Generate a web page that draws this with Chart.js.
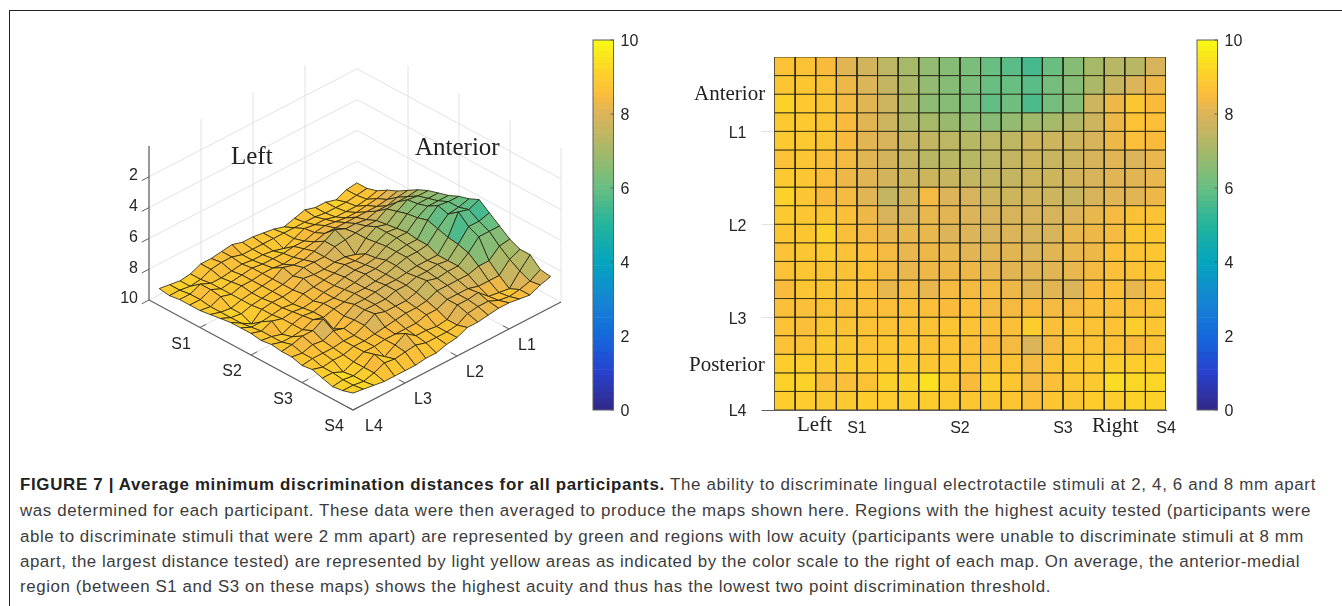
<!DOCTYPE html>
<html>
<head>
<meta charset="utf-8">
<title>Figure 7</title>
<script src="https://cdn.jsdelivr.net/npm/chart.js@4/dist/chart.umd.min.js"></script>
<style>
body { margin: 0; background: #fff; width: 1342px; height: 606px; overflow: hidden; position: relative; }
canvas { position: absolute; }
.frame { position: absolute; left: 9px; top: 10px; right: 0; bottom: 0; border-left: 1px solid #222; border-top: 1px solid #222; }
.serif { position: absolute; font-family: "Liberation Serif", serif; color: #222; white-space: nowrap; line-height: 1; }
.cap { position: absolute; left: 20px; font: 16.9px "Liberation Sans", sans-serif; color: #3c3c3c; white-space: nowrap; line-height: 18px; }
.cap b { color: #222; }
</style>
</head>
<body>
<div class="frame"></div>

<div style="position:absolute;left:100px;top:20px;width:490px;height:420px"><canvas id="surfaceChart"></canvas></div>
<div style="position:absolute;left:585px;top:30px;width:60px;height:395px"><canvas id="barLeft"></canvas></div>
<div style="position:absolute;left:680px;top:30px;width:510px;height:420px"><canvas id="heatChart"></canvas></div>
<div style="position:absolute;left:1189px;top:30px;width:60px;height:395px"><canvas id="barRight"></canvas></div>

<span class="serif" style="left:231px;top:143px;font-size:25px">Left</span>
<span class="serif" style="left:415px;top:134px;font-size:25px">Anterior</span>
<span class="serif" style="left:694px;top:83px;font-size:21px">Anterior</span>
<span class="serif" style="left:689px;top:354px;font-size:21px">Posterior</span>
<span class="serif" style="left:797px;top:414px;font-size:21px">Left</span>
<span class="serif" style="left:1092px;top:415px;font-size:21px">Right</span>

<div class="cap" data-w="1296" style="top:476px"><b>FIGURE 7 | Average minimum discrimination distances for all participants.</b> The ability to discriminate lingual electrotactile stimuli at 2, 4, 6 and 8 mm apart</div>
<div class="cap" data-w="1291" style="top:502px">was determined for each participant. These data were then averaged to produce the maps shown here. Regions with the highest acuity tested (participants were</div>
<div class="cap" data-w="1284" style="top:528px">able to discriminate stimuli that were 2 mm apart) are represented by green and regions with low acuity (participants were unable to discriminate stimuli at 8 mm</div>
<div class="cap" data-w="1280" style="top:553px">apart, the largest distance tested) are represented by light yellow areas as indicated by the color scale to the right of each map. On average, the anterior-medial</div>
<div class="cap" data-w="1031" style="top:578px">region (between S1 and S3 on these maps) shows the highest acuity and thus has the lowest two point discrimination threshold.</div>

<script>
// tick labels
var sLabels = ['S1', 'S2', 'S3', 'S4'];
var lLabels = ['L1', 'L2', 'L3', 'L4'];
var gridTicks = [5, 10, 15, 20];
var zTicks = [2, 4, 6, 8, 10];
var barTicks = [0, 2, 4, 6, 8, 10];

// colour scale
var colorValues = [0, 1, 2, 3, 4, 5, 6, 6.5, 7, 7.5, 8, 8.5, 9, 9.5, 10];
var colorRed    = [50, 40, 20, 20, 5, 35, 105, 135, 165, 195, 220, 250, 253, 250, 249];
var colorGreen  = [40, 65, 105, 135, 165, 180, 190, 188, 185, 181, 180, 187, 205, 228, 251];
var colorBlue   = [135, 205, 220, 210, 190, 155, 130, 118, 105, 97, 90, 60, 45, 30, 20];

// distance (mm) per electrode, row L1..L20, column S1..S20
var row01 = [8.7, 8.7, 8.5, 8.1, 7.8, 7.4, 7.0, 6.7, 6.5, 6.3, 6.0, 5.8, 5.5, 6.0, 6.5, 7.0, 7.3, 7.3, 7.9, 8.0];
var row02 = [8.8, 8.8, 8.7, 8.3, 8.0, 7.5, 7.1, 6.7, 6.5, 6.3, 6.0, 6.0, 5.8, 6.2, 6.5, 7.1, 7.6, 8.0, 8.3, 8.2];
var row03 = [9.1, 8.9, 8.8, 8.4, 8.1, 7.7, 7.1, 6.6, 6.5, 6.3, 5.9, 6.1, 5.6, 6.2, 6.5, 7.7, 8.3, 8.8, 8.5, 8.5];
var row04 = [8.9, 8.9, 8.8, 8.5, 8.1, 7.7, 7.2, 7.0, 6.8, 6.7, 6.5, 6.7, 6.9, 7.0, 7.2, 7.7, 8.3, 8.7, 8.6, 8.4];
var row05 = [8.9, 8.9, 8.8, 8.5, 8.1, 7.9, 7.6, 7.5, 7.4, 7.3, 7.4, 7.4, 7.7, 7.7, 7.7, 7.9, 8.3, 8.6, 8.5, 8.3];
var row06 = [8.7, 8.8, 8.6, 8.4, 8.1, 7.8, 7.6, 7.3, 7.3, 7.3, 7.4, 7.5, 7.7, 7.6, 7.7, 7.9, 8.1, 8.0, 8.2, 8.3];
var row07 = [8.9, 8.8, 8.6, 8.3, 8.1, 7.8, 7.7, 7.7, 7.6, 7.5, 7.5, 7.5, 7.7, 7.7, 7.8, 7.9, 8.1, 8.1, 8.2, 8.4];
var row08 = [9.1, 8.8, 8.5, 8.4, 8.1, 7.5, 7.8, 8.4, 8.0, 7.9, 7.7, 7.7, 7.8, 7.7, 7.6, 7.9, 8.1, 8.1, 8.3, 8.5];
var row09 = [8.9, 8.8, 8.8, 8.6, 8.3, 7.9, 7.9, 8.2, 8.1, 8.0, 7.9, 7.9, 7.9, 7.9, 8.0, 8.2, 8.4, 8.7, 8.7, 8.5];
var row10 = [8.8, 8.8, 9.1, 8.6, 8.4, 8.2, 8.2, 8.2, 8.0, 8.0, 7.9, 8.0, 7.9, 7.9, 8.2, 8.3, 8.4, 8.8, 8.8, 8.8];
var row11 = [8.7, 8.8, 8.9, 8.7, 8.6, 8.4, 8.2, 8.3, 8.2, 8.1, 8.1, 8.1, 8.0, 8.1, 8.2, 8.3, 8.6, 8.7, 8.8, 8.9];
var row12 = [8.7, 8.8, 8.8, 8.7, 8.7, 8.4, 8.2, 8.3, 8.3, 8.3, 8.2, 8.1, 8.1, 8.1, 8.2, 8.4, 8.6, 8.7, 8.8, 9.1];
var row13 = [8.5, 8.8, 8.8, 8.7, 8.6, 8.2, 8.4, 8.2, 8.4, 8.4, 8.4, 8.3, 8.1, 8.1, 8.0, 8.5, 8.6, 8.2, 8.6, 9.1];
var row14 = [8.6, 8.6, 8.7, 8.6, 8.6, 8.6, 8.6, 8.6, 8.5, 8.6, 8.4, 8.4, 8.5, 8.4, 8.4, 8.6, 8.6, 8.6, 8.7, 9.2];
var row15 = [8.7, 8.6, 8.8, 8.7, 8.7, 8.7, 8.7, 8.7, 8.8, 8.7, 8.6, 8.6, 9.0, 8.6, 8.7, 8.7, 8.7, 9.0, 8.8, 9.2];
var row16 = [8.7, 8.7, 8.9, 8.8, 8.7, 8.8, 8.8, 8.7, 8.7, 8.6, 8.5, 8.4, 8.0, 8.4, 8.7, 8.7, 8.7, 8.5, 8.7, 9.2];
var row17 = [9.0, 9.0, 8.9, 8.9, 8.9, 8.9, 8.9, 8.8, 8.8, 8.7, 8.7, 8.7, 8.4, 8.7, 8.8, 8.9, 9.0, 9.0, 9.0, 9.2];
var row18 = [9.1, 9.1, 8.6, 8.6, 8.7, 9.1, 9.1, 9.4, 8.9, 8.5, 9.0, 8.8, 8.4, 8.6, 8.8, 8.9, 9.3, 9.2, 9.2, 9.1];
var row19 = [9.0, 9.0, 8.9, 8.9, 9.0, 9.0, 9.0, 9.0, 8.9, 8.8, 8.8, 8.8, 8.6, 8.8, 8.8, 9.0, 9.0, 9.1, 9.1, 9.0];
var row20 = [8.9, 9.0, 8.9, 8.9, 8.9, 8.8, 8.7, 8.6, 8.6, 8.6, 8.7, 8.6, 8.7, 8.7, 8.9, 8.8, 9.0, 9.2, 9.1, 8.9];
var rows = [row01, row02, row03, row04, row05, row06, row07, row08, row09, row10,
            row11, row12, row13, row14, row15, row16, row17, row18, row19, row20];

var N = 20;
var textColor = '#262626';
var edgeColor = 'rgba(35,35,15,0.82)';
var wallColor = '#e2e2e2';
var axisColor = '#5f5f5f';
var labelFont = { family: '"Liberation Sans", sans-serif', size: 16 };

function colorFor(v) {
    var i = 0;
    while (i < colorValues.length - 2 && v > colorValues[i + 1]) i++;
    var t = (v - colorValues[i]) / (colorValues[i + 1] - colorValues[i]);
    var mix = function (c) { return Math.round(c[i] + (c[i + 1] - c[i]) * t); };
    return 'rgb(' + mix(colorRed) + ',' + mix(colorGreen) + ',' + mix(colorBlue) + ')';
}

// view of the MATLAB surf: S runs to the lower right, L to the lower left, z downwards
function project(s, l, z) {
    return {
        x: 353 + (s - 20) * 10.2 + (20 - l) * 10.4,
        y: 410 + (s - 20) * 5.5 + (l - 20) * 5.4 + (z - 10) * 15.4
    };
}

function polyline(points, color, width) {
    return { data: points, borderColor: color, borderWidth: width, pointRadius: 0, fill: false, tension: 0 };
}

function quad(points, color) {
    points.push(points[0]);
    return { data: points, backgroundColor: color, borderColor: edgeColor, borderWidth: 1, pointRadius: 0, fill: 'shape', tension: 0, borderJoinStyle: 'round' };
}

var baseOptions = {
    responsive: true,
    maintainAspectRatio: false,
    animation: false,
    events: [],
    plugins: { legend: { display: false }, tooltip: { enabled: false } }
};

// ---- left map: surface
var surfaceSets = [];

// quads front to back, because Chart.js paints the first dataset last
for (var sum = (N - 2) * 2; sum >= 0; sum--) {
    for (var a = 0; a < N - 1; a++) {
        var b = sum - a;
        if (b < 0 || b >= N - 1) continue;
        surfaceSets.push(quad([
            project(a + 1, b + 1, rows[b][a]),
            project(a + 2, b + 1, rows[b][a + 1]),
            project(a + 2, b + 2, rows[b + 1][a + 1]),
            project(a + 1, b + 2, rows[b + 1][a])
        ], colorFor(rows[b][a])));
    }
}

// box axes
surfaceSets.push(polyline([project(0, 20, 0), project(0, 20, 10), project(20, 20, 10), project(20, 0, 10)], axisColor, 1.2));
gridTicks.forEach(function (t) {
    surfaceSets.push(polyline([project(t, 20, 10), project(t, 19.4, 10)], axisColor, 1));
    surfaceSets.push(polyline([project(20, t, 10), project(19.4, t, 10)], axisColor, 1));
});
zTicks.forEach(function (t) {
    surfaceSets.push(polyline([project(0, 20, t), project(0, 20.7, t)], axisColor, 1));
});

// walls and floor
gridTicks.forEach(function (t) {
    surfaceSets.push(polyline([project(0, t, 10), project(0, t, 0)], wallColor, 1));
    surfaceSets.push(polyline([project(t, 0, 10), project(t, 0, 0)], wallColor, 1));
    surfaceSets.push(polyline([project(t, 20, 10), project(t, 0, 10)], wallColor, 1));
    surfaceSets.push(polyline([project(20, t, 10), project(0, t, 10)], wallColor, 1));
});
zTicks.forEach(function (t) {
    surfaceSets.push(polyline([project(0, 20, t), project(0, 0, t), project(20, 0, t)], wallColor, 1));
});

var surfaceLabels = {
    id: 'surfaceLabels',
    afterDraw: function (chart) {
        var ctx = chart.ctx, sx = chart.scales.x, sy = chart.scales.y;
        ctx.save();
        ctx.fillStyle = textColor;
        ctx.font = '16px "Liberation Sans", sans-serif';
        ctx.textBaseline = 'middle';
        ctx.textAlign = 'center';
        gridTicks.forEach(function (t, i) {
            var p = project(t, 20, 10);
            ctx.fillText(sLabels[i], sx.getPixelForValue(p.x) - 19, sy.getPixelForValue(p.y) + 17);
            p = project(20, t, 10);
            ctx.fillText(lLabels[i], sx.getPixelForValue(p.x) + (i == 3 ? 21 : 18), sy.getPixelForValue(p.y) + 17);
        });
        ctx.textAlign = 'right';
        zTicks.forEach(function (t) {
            var p = project(0, 20, t);
            ctx.fillText(String(t), sx.getPixelForValue(p.x) - 11, sy.getPixelForValue(p.y) - 1);
        });
        ctx.restore();
    }
};

new Chart(document.getElementById('surfaceChart'), {
    type: 'line',
    data: { datasets: surfaceSets },
    plugins: [surfaceLabels],
    options: Object.assign({}, baseOptions, {
        scales: {
            x: { type: 'linear', display: false, min: 100, max: 590 },
            y: { type: 'linear', display: false, min: 20, max: 440, reverse: true }
        }
    })
});

// ---- right map: flat view of the same data
var heatSets = [];
for (var r = 0; r < N - 1; r++) {
    for (var c = 0; c < N - 1; c++) {
        heatSets.push(quad([
            { x: c + 1, y: r + 1 }, { x: c + 2, y: r + 1 },
            { x: c + 2, y: r + 2 }, { x: c + 1, y: r + 2 }
        ], colorFor(rows[r][c])));
    }
}

function setGridTicks(axis) {
    axis.ticks = gridTicks.map(function (v) { return { value: v }; });
}

new Chart(document.getElementById('heatChart'), {
    type: 'line',
    data: { datasets: heatSets },
    options: Object.assign({}, baseOptions, {
        layout: { padding: { top: 27, right: 24 } },
        scales: {
            x: {
                type: 'linear', min: 1, max: 20,
                afterBuildTicks: setGridTicks,
                afterFit: function (axis) { axis.height = 40; },
                border: { color: axisColor },
                grid: { drawOnChartArea: false, tickLength: 0 },
                ticks: {
                    autoSkip: false, maxRotation: 0, padding: 9, color: textColor,
                    font: labelFont,
                    callback: function (v) { return sLabels[gridTicks.indexOf(v)]; }
                }
            },
            y: {
                type: 'linear', min: 1, max: 20, reverse: true,
                afterBuildTicks: setGridTicks,
                afterFit: function (axis) { axis.width = 94.5; },
                border: { color: axisColor },
                grid: {
                    drawOnChartArea: false, tickLength: 13,
                    tickColor: function (ctx) { return ctx.tick && ctx.tick.value == 20 ? axisColor : wallColor; }
                },
                ticks: {
                    autoSkip: false, padding: 15, color: textColor, labelOffset: 2,
                    font: labelFont,
                    callback: function (v) { return lLabels[gridTicks.indexOf(v)]; }
                }
            }
        }
    })
});

// ---- colour bars
var barFrame = {
    id: 'barFrame',
    afterDraw: function (chart) {
        var ctx = chart.ctx, area = chart.chartArea, sy = chart.scales.y;
        ctx.save();
        ctx.strokeStyle = axisColor;
        ctx.lineWidth = 1;
        ctx.strokeRect(area.left, area.top, area.right - area.left, area.bottom - area.top);
        barTicks.forEach(function (t) {
            var y = sy.getPixelForValue(t);
            ctx.beginPath();
            ctx.moveTo(area.right - 3, y);
            ctx.lineTo(area.right, y);
            ctx.stroke();
        });
        ctx.restore();
    }
};

function makeBar(id) {
    var steps = 64, sets = [];
    for (var i = 0; i < steps; i++) {
        var lo = i * 10 / steps, hi = (i + 1) * 10 / steps;
        sets.push({ data: [[lo, hi]], backgroundColor: colorFor((lo + hi) / 2), barPercentage: 1, categoryPercentage: 1 });
    }
    new Chart(document.getElementById(id), {
        type: 'bar',
        data: { labels: ['mm'], datasets: sets },
        plugins: [barFrame],
        options: Object.assign({}, baseOptions, {
            layout: { padding: { left: 8, top: 10, bottom: 15 } },
            scales: {
                x: { stacked: true, display: false },
                y: {
                    position: 'right', min: 0, max: 10,
                    afterFit: function (axis) {
                        axis.width = 31.5;
                        axis.paddingTop = 0;
                        axis.paddingBottom = 0;
                    },
                    border: { display: false },
                    grid: { display: false, drawTicks: false },
                    ticks: { stepSize: 2, padding: 7, color: textColor, font: labelFont, labelOffset: 2 }
                }
            }
        })
    });
}
makeBar('barLeft');
makeBar('barRight');

// stretch each caption line to the measured width of the printed line
document.querySelectorAll('.cap').forEach(function (line) {
    var gap = Number(line.dataset.w) - line.getBoundingClientRect().width;
    line.style.letterSpacing = (gap / line.textContent.length) + 'px';
});
</script>
</body>
</html>
